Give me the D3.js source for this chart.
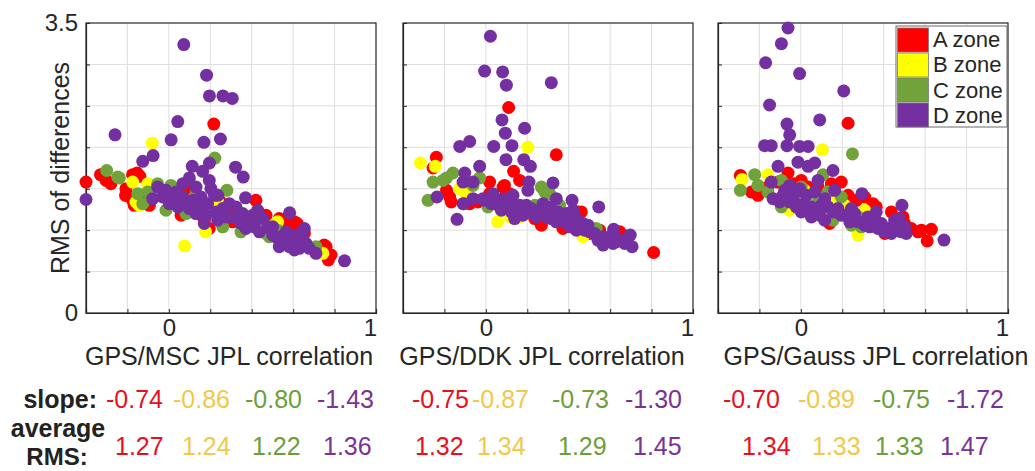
<!DOCTYPE html>
<html>
<head>
<meta charset="utf-8">
<script src="https://cdn.jsdelivr.net/npm/d3@7"></script>
<style>
  body { margin: 0; background: #fff; }
  text { font-family: "Liberation Sans", Arial, Helvetica, sans-serif; }
</style>
</head>
<body>
<div id="container"></div>
<script>
// zones and colours
const zones = ["A zone", "B zone", "C zone", "D zone"];
const dotColors = ["#ff0000", "#ffff00", "#71a33a", "#7430a0"];
const textColors = ["#e8101c", "#f2c84a", "#6c9f3a", "#7a3294"];

const xTicks = [-0.4, -0.2, 0, 0.2, 0.4, 0.6, 0.8, 1];
const yTicks = [0, 0.5, 1, 1.5, 2, 2.5, 3, 3.5];
const xLabelled = [0, 1];
const yLabelled = [0, 3.5];
const titles = ["GPS/MSC JPL correlation", "GPS/DDK JPL correlation", "GPS/Gauss JPL correlation"];

// panel 1 : MSC  [correlation, RMS]
const mscA = [[0.217,2.28],[-0.4,1.58],[0.77,0.64],[-0.33,1.67],[-0.28,1.56],[-0.175,1.67],[-0.14,1.65],[-0.2,1.42],[-0.167,1.30],[-0.094,1.30],[0.059,1.18],[0.083,1.50],[0.171,1.12],[0.244,1.36],[0.276,1.26],[0.42,1.36],[0.533,1.14],[0.62,1.08],[0.58,1.04],[0.654,0.96],[0.75,0.82],[0.308,1.10],[0.195,1.02],[0.469,1.18],[0.566,0.88],[-0.153,1.69],[-0.209,1.42],[-0.105,1.32],[-0.207,1.50],[-0.134,1.38],[-0.303,1.60],[-0.175,1.36],[0.606,1.10],[0.63,0.98],[0.566,1.14],[0.759,0.80],[0.783,0.70],[0.085,1.22]];
const mscB = [[-0.08,2.05],[0.076,0.81],[0.177,0.98],[-0.175,1.58],[-0.102,1.56],[-0.143,1.30],[0.236,1.34],[0.517,1.08],[0.743,0.72],[0.244,1.20],[0.083,1.34],[-0.159,1.34],[0.525,1.10]];
const mscC = [[0.222,1.87],[0.28,1.48],[-0.3,1.72],[-0.239,1.63],[-0.15,1.44],[-0.126,1.32],[-0.014,1.24],[-0.054,1.56],[0.01,1.54],[0.131,1.44],[0.26,1.04],[0.348,0.98],[0.485,0.92],[0.71,0.80],[0.059,1.36],[-0.006,1.38],[0.083,1.20],[0.437,1.16],[-0.102,1.46],[-0.247,1.64],[0.469,0.96],[0.525,1.00],[0.413,1.14]];
const mscD = [[0.072,3.24],[0.182,2.87],[0.196,2.62],[0.261,2.62],[0.306,2.59],[0.043,2.31],[-0.26,2.15],[0.011,2.09],[0.169,2.06],[0.249,2.10],[-0.126,1.83],[-0.076,1.90],[0.196,1.81],[0.113,1.77],[0.322,1.76],[0.359,1.64],[-0.4,1.37],[0.37,1.39],[0.583,1.21],[0.848,0.63],[0.163,1.71],[0.099,1.63],[0.195,1.60],[0.131,1.52],[0.203,1.50],[-0.054,1.52],[-0.078,1.38],[-0.03,1.40],[0.035,1.46],[0.067,1.40],[0.018,1.38],[0.083,1.30],[0.115,1.36],[0.147,1.28],[0.187,1.32],[0.131,1.20],[0.179,1.18],[0.228,1.22],[0.236,1.12],[0.276,1.16],[0.324,1.28],[0.308,1.16],[0.356,1.20],[0.388,1.10],[0.413,1.04],[0.429,1.24],[0.453,1.14],[0.477,1.04],[0.437,0.98],[0.372,1.02],[0.501,0.94],[0.541,0.92],[0.566,0.98],[0.606,0.94],[0.654,1.02],[0.646,0.90],[0.533,0.80],[0.582,0.80],[0.63,0.78],[0.662,0.84],[0.71,0.72],[-0.014,1.48],[0.002,1.32],[0.043,1.28],[0.067,1.56],[0.155,1.40],[0.22,1.42],[0.171,1.08],[0.26,1.26],[0.236,1.42],[0.099,1.26],[0.292,1.32],[0.348,1.08],[0.405,1.18],[0.501,1.04],[0.525,0.90],[0.598,0.88],[0.638,0.96],[0.557,0.84],[0.606,0.76],[0.678,0.78]];

// panel 2 : DDK
const ddkA = [[0.11,2.48],[0.34,1.91],[-0.239,1.88],[0.81,0.73],[0.134,1.71],[-0.255,1.75],[-0.19,1.48],[-0.175,1.40],[-0.167,1.34],[-0.038,1.34],[0.018,1.58],[0.09,1.54],[0.115,1.44],[0.268,1.06],[0.461,1.22],[0.549,1.00],[0.662,0.94],[0.63,0.86],[0.372,1.02],[0.171,1.18],[-0.078,1.32],[0.018,1.44],[0.083,1.52],[0.163,1.60],[0.236,1.14],[0.445,1.22],[0.501,0.96],[0.646,0.98]];
const ddkB = [[-0.316,1.81],[-0.244,1.77],[0.203,2.00],[0.057,1.10],[-0.102,1.46],[0.115,1.16],[0.469,0.92],[0.26,1.22],[-0.126,1.50],[0.163,1.16]];
const ddkC = [[-0.255,1.58],[-0.279,1.36],[-0.19,1.63],[-0.159,1.69],[-0.03,1.63],[0.01,1.28],[0.268,1.52],[0.284,1.46],[0.356,1.30],[0.236,1.30],[0.533,1.02],[0.389,1.14],[-0.207,1.60],[-0.062,1.54],[0.308,1.44],[0.405,1.16]];
const ddkD = [[0.022,3.34],[-0.006,2.92],[0.081,2.91],[0.099,2.75],[0.316,2.78],[0.078,2.33],[0.187,2.23],[0.094,2.17],[-0.126,2.01],[-0.078,2.07],[0.038,2.01],[0.126,2.02],[0.097,1.85],[0.183,1.85],[0.215,1.77],[-0.03,1.77],[0.324,1.57],[-0.236,1.40],[-0.139,1.13],[-0.107,1.32],[0.545,1.28],[0.416,1.36],[0.617,1.01],[0.697,0.94],[0.706,0.80],[-0.102,1.69],[-0.11,1.58],[-0.062,1.58],[-0.11,1.32],[-0.062,1.38],[-0.006,1.36],[0.035,1.44],[0.051,1.32],[0.083,1.38],[0.131,1.42],[0.075,1.24],[0.115,1.30],[0.155,1.24],[0.139,1.14],[0.195,1.30],[0.208,1.58],[0.203,1.48],[0.228,1.20],[0.276,1.32],[0.292,1.16],[0.34,1.38],[0.348,1.22],[0.421,1.24],[0.372,1.10],[0.413,1.08],[0.469,1.08],[0.437,1.00],[0.501,0.98],[0.541,0.88],[0.566,0.82],[0.614,0.84],[-0.014,1.38],[0.026,1.32],[0.067,1.28],[0.099,1.36],[0.123,1.22],[0.163,1.30],[0.179,1.18],[0.22,1.26],[0.244,1.16],[0.268,1.24],[0.308,1.28],[0.316,1.14],[0.34,1.10],[0.389,1.20],[0.405,1.04],[0.445,1.12],[0.477,1.00],[0.493,1.06],[0.525,0.96],[0.566,0.92],[0.598,0.92],[0.646,0.88],[0.67,0.84]];

// panel 3 : Gauss
const gaussA = [[0.228,2.29],[-0.292,1.66],[0.61,0.87],[-0.239,1.46],[-0.207,1.42],[-0.062,1.69],[0.002,1.60],[0.035,1.52],[0.195,1.58],[0.228,1.42],[0.268,1.36],[0.348,1.32],[0.139,1.08],[0.405,0.96],[0.533,1.02],[0.582,1.00],[0.63,1.01],[0.493,1.16],[-0.159,1.52],[-0.11,1.58],[-0.03,1.56],[0.083,1.52],[0.147,1.56],[0.308,1.40],[0.364,1.28],[0.437,1.22],[0.501,1.08],[0.566,0.98]];
const gaussB = [[0.104,1.97],[0.276,0.94],[-0.284,1.61],[-0.159,1.67],[-0.054,1.24],[0.171,1.36],[0.308,1.24],[0.018,1.48],[0.211,1.30]];
const gaussC = [[0.249,1.92],[-0.292,1.48],[-0.223,1.67],[-0.207,1.54],[-0.159,1.46],[-0.094,1.28],[0.107,1.67],[0.075,1.32],[0.155,1.12],[0.276,1.16],[0.372,1.08],[-0.094,1.60],[0.002,1.52],[0.131,1.46],[0.195,1.40],[0.244,1.06],[0.292,1.04]];
const gaussD = [[-0.062,3.44],[-0.094,3.25],[-0.17,3.02],[-0.006,2.89],[0.207,2.68],[-0.151,2.51],[0.091,2.33],[-0.067,2.28],[-0.054,2.15],[-0.175,2.02],[-0.143,2.02],[-0.067,2.02],[-0.006,2.01],[0.035,2.01],[-0.014,1.82],[0.067,1.81],[-0.11,1.77],[0.155,1.72],[0.295,1.44],[0.488,1.30],[0.691,0.88],[0.035,1.77],[-0.143,1.58],[-0.054,1.54],[-0.006,1.50],[-0.134,1.38],[-0.086,1.42],[-0.03,1.34],[0.026,1.42],[0.083,1.60],[0.067,1.46],[0.115,1.38],[0.163,1.48],[0.002,1.22],[0.051,1.28],[0.091,1.18],[0.131,1.28],[0.179,1.26],[0.22,1.18],[0.244,1.26],[0.276,1.10],[0.324,1.16],[0.364,1.22],[0.332,1.04],[0.389,1.08],[0.421,1.02],[0.453,1.12],[0.477,1.14],[0.469,1.00],[0.501,1.04],[0.437,0.96],[-0.078,1.48],[-0.03,1.44],[0.018,1.32],[0.051,1.16],[0.099,1.30],[0.115,1.12],[0.155,1.22],[0.195,1.18],[0.236,1.10],[0.26,1.20],[0.308,1.06],[0.356,1.14],[0.372,1.02],[0.405,0.98],[0.445,1.04],[0.485,0.98],[0.509,0.96],[-0.102,1.34],[-0.054,1.34],[-0.022,1.28]];

// summary numbers under each panel
const slopes = [[-0.74, -0.86, -0.80, -1.43], [-0.75, -0.87, -0.73, -1.30], [-0.70, -0.89, -0.75, -1.72]];
const avgRMS = [[1.27, 1.24, 1.22, 1.36], [1.32, 1.34, 1.29, 1.45], [1.34, 1.33, 1.33, 1.47]];

const panels = [
  [mscA, mscB, mscC, mscD],
  [ddkA, ddkB, ddkC, ddkD],
  [gaussA, gaussB, gaussC, gaussD],
];

// layout
const width = 1035;
const height = 471;
const panelLeft = [86, 403, 718];
const panelTop = 23;
const size = 290;
const titleX = [229, 542, 876];
const slopeX = [[106, 173, 245, 317], [412, 472, 552, 625], [723, 798, 873, 947]];
const rmsX = [[115, 182, 252, 323], [415, 477, 558, 633], [742, 812, 875, 940]];
const radius = 6.5;
const ink = "#262626";

const svg = d3
  .select("#container")
  .append("svg")
  .attr("width", width)
  .attr("height", height)
  .style("background", "#fff");

const x = d3.scaleLinear().domain([-0.4, 1]).range([0, size]);
const y = d3.scaleLinear().domain([0, 3.5]).range([size, 0]);

panels.forEach((series, p) => {
  const g = svg.append("g").attr("transform", `translate(${panelLeft[p]},${panelTop})`);

  g.append("rect").attr("width", size).attr("height", size).attr("fill", "#fff");

  // grid
  g.append("g")
    .selectAll("line")
    .data(xTicks.slice(1, -1))
    .join("line")
    .attr("x1", (d) => x(d))
    .attr("x2", (d) => x(d))
    .attr("y1", 0)
    .attr("y2", size)
    .attr("stroke", "#dedede");
  g.append("g")
    .selectAll("line")
    .data(yTicks.slice(1, -1))
    .join("line")
    .attr("y1", (d) => y(d))
    .attr("y2", (d) => y(d))
    .attr("x1", 0)
    .attr("x2", size)
    .attr("stroke", "#dedede");

  // axes
  const xAxis = g.append("g")
    .attr("transform", `translate(0,${size})`)
    .call(
      d3.axisBottom(x)
        .tickValues(xTicks)
        .tickSize(-4)
        .tickPadding(6)
        .tickFormat((d) => (xLabelled.includes(d) ? String(d) : ""))
    );
  // MATLAB puts the end label a little inside
  xAxis.selectAll(".tick text").attr("dx", (d) => (d === 1 ? -6 : 0));
  const yAxis = g.append("g")
    .call(
      d3.axisLeft(y)
        .tickValues(yTicks)
        .tickSize(-4)
        .tickPadding(8)
        .tickFormat((d) => (p === 0 && yLabelled.includes(d) ? String(d) : ""))
    );
  [xAxis, yAxis].forEach((a) => {
    a.select(".domain").attr("stroke", ink).attr("stroke-width", 1.2);
    a.selectAll(".tick line").attr("stroke", ink);
    a.selectAll(".tick text")
      .attr("fill", ink)
      .style("font-size", "24px")
      .style("font-family", '"Liberation Sans", Arial, sans-serif');
  });
  g.append("rect")
    .attr("width", size)
    .attr("height", size)
    .attr("fill", "none")
    .attr("stroke", ink)
    .attr("stroke-width", 1.2);

  // dots, zone A first, D on top
  series.forEach((pts, k) => {
    g.append("g")
      .selectAll("circle")
      .data(pts)
      .join("circle")
      .attr("cx", (d) => x(d[0]))
      .attr("cy", (d) => y(d[1]))
      .attr("r", radius)
      .attr("fill", dotColors[k]);
  });

  svg.append("text")
    .attr("x", titleX[p])
    .attr("y", 365)
    .attr("text-anchor", "middle")
    .attr("fill", ink)
    .style("font-size", "25px")
    .text(titles[p]);

  // slope and average RMS rows
  slopes[p].forEach((v, k) => {
    svg.append("text")
      .attr("x", slopeX[p][k])
      .attr("y", 408)
      .attr("fill", textColors[k])
      .style("font-size", "25px")
      .text(v.toFixed(2));
  });
  avgRMS[p].forEach((v, k) => {
    svg.append("text")
      .attr("x", rmsX[p][k])
      .attr("y", 455)
      .attr("fill", textColors[k])
      .style("font-size", "25px")
      .text(v.toFixed(2));
  });
});

// y label
svg.append("text")
  .attr("transform", "translate(69,168) rotate(-90)")
  .attr("text-anchor", "middle")
  .attr("fill", ink)
  .style("font-size", "25px")
  .text("RMS of differences");

// row headings
svg.append("text").attr("x", 97).attr("y", 408).attr("text-anchor", "end")
  .attr("fill", "#222").style("font-size", "25px").style("font-weight", "bold").text("slope:");
svg.append("text").attr("x", 58).attr("y", 437).attr("text-anchor", "middle")
  .attr("fill", "#222").style("font-size", "25px").style("font-weight", "bold").text("average");
svg.append("text").attr("x", 57).attr("y", 465).attr("text-anchor", "middle")
  .attr("fill", "#222").style("font-size", "24px").style("font-weight", "bold").text("RMS:");

// legend in the third panel
const legend = svg.append("g").attr("transform", "translate(896,26)");
legend.append("rect")
  .attr("width", 111)
  .attr("height", 101)
  .attr("fill", "#fff")
  .attr("stroke", "#6b6b6b");
zones.forEach((z, k) => {
  legend.append("rect")
    .attr("x", 1.5)
    .attr("y", 2 + k * 25)
    .attr("width", 31)
    .attr("height", 24)
    .attr("fill", dotColors[k])
    .attr("stroke", "#7a7a7a")
    .attr("stroke-width", 0.8);
  legend.append("text")
    .attr("x", 37)
    .attr("y", 21 + k * 25.3)
    .attr("fill", ink)
    .style("font-size", "22px")
    .text(z);
});
</script>
</body>
</html>
